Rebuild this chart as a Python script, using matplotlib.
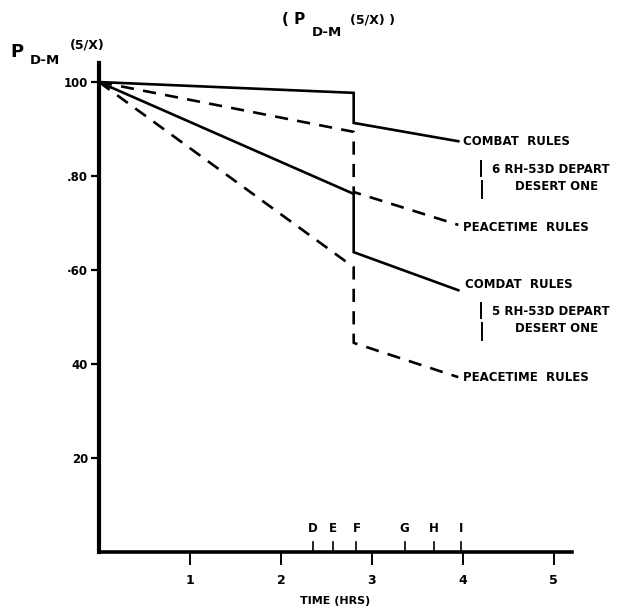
import matplotlib
matplotlib.use("Agg")
import matplotlib.pyplot as plt

# times (hrs): start, arrival at F, just after the drop, end of curve
times = [0, 2.8, 2.8, 3.95]
combat_upper = [100, 97.7, 91.3, 87.4]
peace_upper = [100, 89.4, 76.6, 69.6]
combat_lower = [100, 76.2, 63.8, 55.7]
peace_lower = [100, 60.6, 44.5, 37.2]

y_ticks = [100, 80, 60, 40, 20]
y_tick_labels = ["100", ".80", "·60", "40", "20"]
x_ticks = [1, 2, 3, 4, 5]
event_times = [2.35, 2.57, 2.83, 3.36, 3.68, 3.98]
event_labels = ["D", "E", "F", "G", "H", "I"]

FONT = ["Liberation Sans Narrow", "DejaVu Sans"]
plt.rcParams["font.family"] = FONT
plt.rcParams["font.weight"] = "bold"

fig = plt.figure(figsize=(6.21, 6.14), dpi=100)
ax = fig.add_axes([0.1594, 0.101, 0.7617, 0.796])
ax.set_xlim(0, 5.2)
ax.set_ylim(0, 104)

lw = 1.9
dash = (0, (5, 3.5))
ax.plot(times, combat_upper, color="black", lw=lw, solid_joinstyle="miter")
ax.plot(times, peace_upper, color="black", lw=lw, linestyle=dash)
ax.plot(times, combat_lower, color="black", lw=lw, solid_joinstyle="miter")
ax.plot(times, peace_lower, color="black", lw=lw, linestyle=dash)

# spines
for s in ["top", "right"]:
    ax.spines[s].set_visible(False)
ax.spines["left"].set_linewidth(3.0)
ax.spines["bottom"].set_linewidth(2.6)

ax.set_yticks(y_ticks)
ax.set_yticklabels(y_tick_labels, fontsize=8.5, fontweight="bold")
ax.set_xticks(x_ticks)
ax.set_xticklabels([str(v) for v in x_ticks], fontsize=9, fontweight="bold")
ax.tick_params(axis="y", direction="out", length=6, width=1.6, pad=2)
ax.tick_params(axis="x", direction="out", length=9, width=1.4, pad=7)

# event ticks D..I above the time axis
for t, lab in zip(event_times, event_labels):
    ax.plot([t, t], [0, 2.2], color="black", lw=1.2, clip_on=False)
    ax.text(t, 4.9, lab, ha="center", va="center", fontsize=8.5, fontweight="bold")

ax.set_xlabel("TIME (HRS)", fontsize=8, fontweight="bold", labelpad=6)

# curve labels
lx = times[-1] + 0.05
fs = 8.5
ax.text(lx, combat_upper[-1], "COMBAT  RULES", ha="left", va="center", fontsize=fs)
ax.text(lx, peace_upper[-1] - 0.5, "PEACETIME  RULES", ha="left", va="center", fontsize=fs)
ax.text(lx + 0.02, combat_lower[-1] + 1.2, "COMDAT  RULES", ha="left", va="center", fontsize=fs)
ax.text(lx, peace_lower[-1], "PEACETIME  RULES", ha="left", va="center", fontsize=fs)

# "6 RH-53D DEPART / DESERT ONE" notes with brackets
def depart_note(y_top, num):
    bx = 4.2
    ax.plot([bx, bx], [y_top, y_top - 3.2], color="black", lw=1.4, clip_on=False)
    ax.plot([bx + 0.01, bx + 0.01], [y_top - 4.2, y_top - 7.8], color="black",
            lw=1.4, clip_on=False)
    ax.text(bx + 0.12, y_top - 1.8, f"{num} RH-53D DEPART", ha="left", va="center",
            fontsize=8.5, clip_on=False)
    ax.text(bx + 0.83, y_top - 5.4, "DESERT ONE", ha="center", va="center",
            fontsize=8.5, clip_on=False)

depart_note(83.2, 6)
depart_note(53.0, 5)

# axis title (top-left) and figure title
fig.text(10 / 621, 1 - 52 / 614, "P", fontsize=13, fontweight="bold", va="center")
fig.text(30 / 621, 1 - 60 / 614, "D-M", fontsize=9.5, fontweight="bold", va="center")
fig.text(70 / 621, 1 - 45 / 614, "(5/X)", fontsize=9, fontweight="bold", va="center")

fig.text(282 / 621, 1 - 20 / 614, "( P", fontsize=11, fontweight="bold", va="center")
fig.text(312 / 621, 1 - 33 / 614, "D-M", fontsize=9.5, fontweight="bold", va="center")
fig.text(350 / 621, 1 - 20 / 614, "(5/X) )", fontsize=9, fontweight="bold", va="center")

fig.savefig("out.png", dpi=100)
